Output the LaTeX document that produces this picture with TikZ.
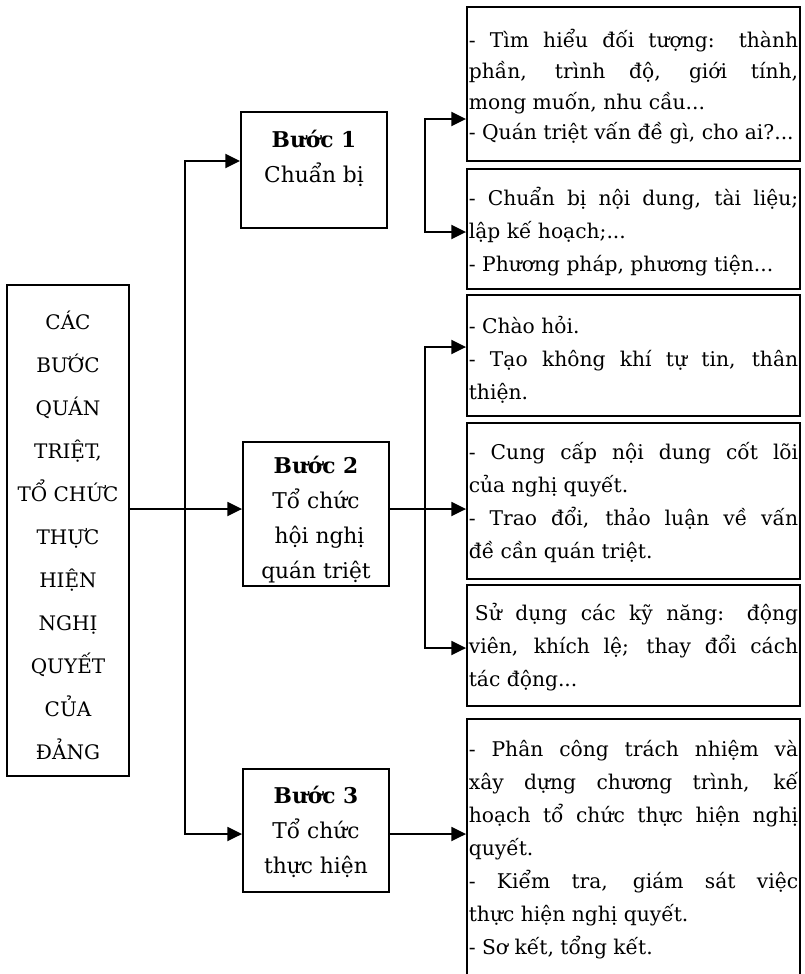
\documentclass[tikz,border=0pt]{standalone}
\usepackage{fontspec}
\setmainfont{DejaVu Serif}
\usetikzlibrary{arrows.meta,fit}
\newcommand{\boxtext}[1]{\begin{minipage}{247pt}\setlength{\parindent}{0pt}\tolerance=10000 \hyphenpenalty=10000 #1\end{minipage}}
\begin{document}
\begin{tikzpicture}[x=0.75pt,y=-0.75pt,
  box/.style={draw, line width=1.4pt, inner sep=0pt},
  rtext/.style={inner sep=0pt, font=\fontsize{15.2}{24.75}\selectfont},
  steptext/.style={align=center, inner sep=0pt, font=\fontsize{16.3}{26.25}\selectfont},
  lefttext/.style={align=center, inner sep=0pt, font=\fontsize{15}{32.25}\selectfont},
  wire/.style={line width=1.4pt},
  arr/.style={wire, -{Triangle[length=11pt,width=10.5pt]}},
  both/.style={wire, {Triangle[length=11pt,width=10.5pt]}-{Triangle[length=11pt,width=10.5pt]}}]
\useasboundingbox (0,0) rectangle (804,974);
\clip (0,0) rectangle (804,974);

% left box
\node[box, fit={(7,285) (129,776)}] (L) {};
\node[lefttext] (Lt) at (68,535) {CÁC\\BƯỚC\\QUÁN\\TRIỆT,\\TỔ CHỨC\\THỰC\\HIỆN\\NGHỊ\\QUYẾT\\CỦA\\ĐẢNG};

% step boxes
\node[box, fit={(241,112) (387,228)}] (B1) {};
\node[steptext] (B1t) at (314,158.5) {\textbf{Bước 1}\\Chuẩn bị};
\node[box, fit={(243,442) (389,586)}] (B2) {};
\node[steptext] (B2t) at (316,519.5) {\textbf{Bước 2}\\Tổ chức\\\hspace*{0.32em}hội nghị\\quán triệt};
\node[box, fit={(243,769) (389,892)}] (B3) {};
\node[steptext] (B3t) at (316,831.5) {\textbf{Bước 3}\\Tổ chức\\thực hiện};

% right boxes
\node[box, fit={(467,7) (800,161)}] (R1) {};
\node[rtext, font=\fontsize{15.2}{23}\selectfont] (R1t) at (633.5,87) {\boxtext{- Tìm hiểu đối tượng: thành\linebreak
phần, trình độ, giới tính,\linebreak
mong muốn, nhu cầu...\par
- Quán triệt vấn đề gì, cho ai?...}};
\node[box, fit={(467,169) (800,289)}] (R2) {};
\node[rtext] (R2t) at (633.5,232) {\boxtext{- Chuẩn bị nội dung, tài liệu;\linebreak
lập kế hoạch;...\par
- Phương pháp, phương tiện...}};
\node[box, fit={(467,295) (800,416)}] (R3) {};
\node[rtext] (R3t) at (633.5,359.5) {\boxtext{- Chào hỏi.\par
- Tạo không khí tự tin, thân\linebreak
thiện.}};
\node[box, fit={(467,423) (800,579)}] (R4) {};
\node[rtext] (R4t) at (633.5,503) {\boxtext{- Cung cấp nội dung cốt lõi\linebreak
của nghị quyết.\par
- Trao đổi, thảo luận về vấn\linebreak
đề cần quán triệt.}};
\node[box, fit={(467,585) (800,706)}] (R5) {};
\node[rtext] (R5t) at (633.5,647) {\boxtext{\hspace*{0.3em}Sử dụng các kỹ năng: động\linebreak
viên, khích lệ; thay đổi cách\linebreak
tác động...}};
\node[box, fit={(467,719) (800,990)}] (R6) {};
\node[rtext] (R6t) at (633.5,850) {\boxtext{- Phân công trách nhiệm và\linebreak
xây dựng chương trình, kế\linebreak
hoạch tổ chức thực hiện nghị\linebreak
quyết.\par
- Kiểm tra, giám sát việc\linebreak
thực hiện nghị quyết.\par
- Sơ kết, tổng kết.}};

% trunk
\coordinate (t1) at (185,161);
\coordinate (t3) at (185,834);
\coordinate (j2) at (185,509);
\draw[both] (t1 -| B1.west) -- (t1) -- (t3) -- (t3 -| B3.west);
\draw[arr] (L.east |- j2) -- (B2.west |- j2);

% step 1 bracket
\coordinate (k1) at (425,119);
\coordinate (k2) at (425,232);
\draw[both] (k1 -| R1.west) -- (k1) -- (k2) -- (k2 -| R2.west);

% step 2 bracket
\coordinate (k3) at (425,347);
\coordinate (k4) at (425,648);
\draw[both] (k3 -| R3.west) -- (k3) -- (k4) -- (k4 -| R5.west);
\draw[arr] (B2.east |- j2) -- (R4.west |- j2);

% step 3
\draw[arr] (B3.east |- t3) -- (R6.west |- t3);
\end{tikzpicture}
\end{document}
